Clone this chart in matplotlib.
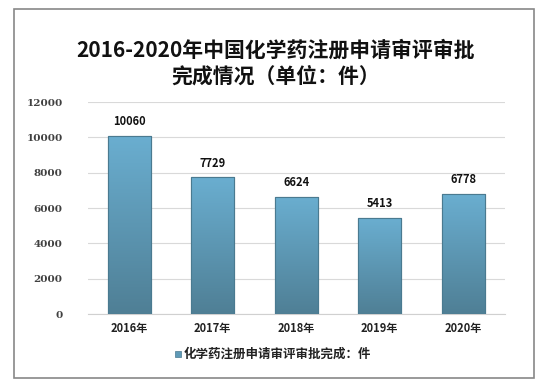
import matplotlib
matplotlib.use("Agg")
import matplotlib.pyplot as plt
import numpy as np
from matplotlib.patches import Rectangle
from matplotlib.colors import LinearSegmentedColormap

plt.rcParams['font.family'] = ['Noto Sans CJK SC', 'DejaVu Sans']

years = ['2016年', '2017年', '2018年', '2019年', '2020年']
values = [10060, 7729, 6624, 5413, 6778]
yticks = [0, 2000, 4000, 6000, 8000, 10000, 12000]
title = '2016-2020年中国化学药注册申请审评审批\n完成情况（单位：件）'
legend_label = '化学药注册申请审评审批完成：件'

W, H = 551, 385
fig = plt.figure(figsize=(W/100, H/100), dpi=100)
# outer border
fig.patches.append(Rectangle((14/W, 1-378/H), (534-14)/W, (378-9)/H, transform=fig.transFigure,
                             fill=False, edgecolor='#888888', linewidth=1.2))

ax = fig.add_axes([87.5/W, 1-314/H, (505-87.5)/W, (314-102)/H])
x = np.arange(len(years))
bars = ax.bar(x, values, width=0.51, color='#5f9ab7', edgecolor='#4a7a90', linewidth=0.8, zorder=3)

cmap = LinearSegmentedColormap.from_list('g', ['#4f7f95', '#6aaed0'])
grad = np.linspace(0, 1, 256).reshape(-1, 1)
for b in bars:
    x0, y0, w, h = b.get_x(), b.get_y(), b.get_width(), b.get_height()
    im = ax.imshow(grad, cmap=cmap, aspect='auto', origin='lower',
                   extent=[x0, x0 + w, y0, y0 + h], zorder=3.5)
    im.set_clip_path(b)
    ax.add_patch(Rectangle((x0, y0), w, h, fill=False, edgecolor='#4a7a90', linewidth=0.8, zorder=4))

for xi, v in zip(x, values):
    ax.text(xi, v + 450, str(v), ha='center', va='bottom', fontsize=8, fontweight='bold', color='#111111')

ax.set_xlim(-0.5, len(years) - 0.5)
ax.set_ylim(0, 12000)
ax.set_yticks(yticks)
ax.set_yticklabels([str(t) for t in yticks], fontsize=7.5, color='#404040',
                   family=['DejaVu Serif'], fontweight='bold')
ax.set_xticks(x)
ax.set_xticklabels(years, fontsize=8, fontweight='bold', color='#222222')
ax.tick_params(axis='both', length=0, pad=6)
ax.tick_params(axis='y', pad=18)
ax.grid(axis='y', color='#d9d9d9', linewidth=0.8, zorder=0)
for s in ['top', 'right', 'left']:
    ax.spines[s].set_visible(False)
ax.spines['bottom'].set_color('#d0d0d0')
ax.set_axisbelow(True)

fig.text(0.5, 1-63/H, title, ha='center', va='center', fontsize=15, fontweight='bold',
         color='#111111', linespacing=1.3)

# legend
fig.patches.append(Rectangle((175/W, 1-357/H), 6/W, 6/H, transform=fig.transFigure,
                             facecolor='#5f9ab7', edgecolor='#4a7a90', linewidth=0.5))
fig.text(184/W, 1-354/H, legend_label, ha='left', va='center', fontsize=9, fontweight='bold', color='#222222')

fig.savefig('out.png', dpi=100)
